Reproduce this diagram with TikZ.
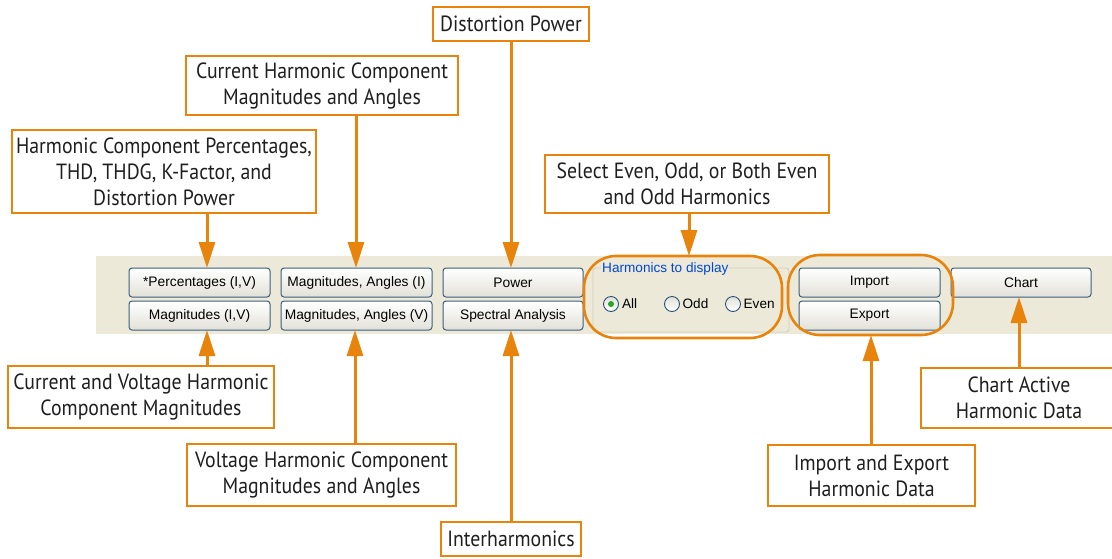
\documentclass[tikz,border=0pt]{standalone}
\usepackage{fontspec}
\setmainfont{PT Sans}[FakeStretch=0.9]
\newfontfamily\uifont{Liberation Sans}
\usetikzlibrary{arrows.meta}

\definecolor{callorange}{RGB}{232,131,12}
\definecolor{panelbg}{RGB}{236,233,216}
\definecolor{btnedge}{RGB}{60,94,128}
\definecolor{btnlow}{RGB}{226,225,216}
\definecolor{grpedge}{RGB}{208,206,191}
\definecolor{grplabel}{RGB}{0,70,213}
\definecolor{radioedge}{RGB}{40,80,120}
\definecolor{radiodot}{RGB}{40,165,40}

\begin{document}
\begin{tikzpicture}[x=1pt,y=-1pt,
  callout/.style={draw=callorange, line width=2.6pt, fill=white, inner sep=0pt,
    align=center, text=black!88, font=\fontsize{22}{26}\selectfont},
  uibtn/.style={draw=btnedge, line width=1pt, rounded corners=3pt,
    top color=white, bottom color=btnlow, inner sep=0pt,
    font=\uifont\fontsize{13.8}{15}\selectfont, minimum height=29pt},
  uitext/.style={inner sep=0pt, font=\uifont\fontsize{13.6}{15}\selectfont},
  radio/.style={circle, draw=radioedge, line width=0.9pt, minimum size=15pt,
    inner sep=0pt, top color=btnlow, bottom color=white},
  ring/.style={draw=callorange, line width=2.6pt, rounded corners=32pt, inner sep=0pt},
  arr/.style={draw=callorange, line width=3pt, -{Triangle[length=26pt,width=16pt]}}
]
\useasboundingbox (0,0) rectangle (1112,558);
\fill[white] (0,0) rectangle (1112,558);

% toolbar strip
\node[fill=panelbg, inner sep=0pt, minimum width=1016pt, minimum height=78pt] (panel) at (604,295) {};

% "Harmonics to display" group box with its radio buttons
\node[draw=grpedge, line width=0.9pt, rounded corners=3pt, inner sep=0pt,
      minimum width=196pt, minimum height=64pt] (grp) at (691,300) {};
\node[uitext, text=grplabel, fill=panelbg, inner xsep=1pt, inner ysep=1pt, anchor=base west] (grplab) at (601,272.5) {Harmonics to display};
\node[radio] (rall) at (611,304) {};
\fill[radiodot] (rall.center) circle (3pt);
\node[uitext, anchor=west] (tall) at ([xshift=3pt]rall.east) {All};
\node[radio] (rodd) at (672,304) {};
\node[uitext, anchor=west] (todd) at ([xshift=2.5pt]rodd.east) {Odd};
\node[radio] (reven) at (733,304) {};
\node[uitext, anchor=west] (teven) at ([xshift=2.5pt]reven.east) {Even};

% push buttons
\node[uibtn, minimum width=141pt] (bpct) at (199.5,282.5) {*Percentages (I,V)};
\node[uibtn, minimum width=141pt] (bmag) at (199.5,315.5) {Magnitudes (I,V)};
\node[uibtn, minimum width=151pt] (bmai) at (356.5,282.5) {Magnitudes, Angles (I)};
\node[uibtn, minimum width=151pt] (bmav) at (356.5,315.5) {Magnitudes, Angles (V)};
\node[uibtn, minimum width=140pt] (bpow) at (513,282.5) {Power};
\node[uibtn, minimum width=140pt] (bspec) at (513,315.5) {Spectral Analysis};
\node[uibtn, minimum width=141pt] (bimp) at (869.5,282.5) {Import};
\node[uibtn, minimum width=141pt] (bexp) at (869.5,315.5) {Export};
\node[uibtn, minimum width=140pt] (bchart) at (1021,282.5) {Chart};

% highlight rings
\node[ring, minimum width=198pt, minimum height=82pt] (ringgrp) at (683,297) {};
\node[ring, minimum width=165pt, minimum height=80pt] (ringie) at (870.5,295) {};

% callout boxes
\node[callout, minimum width=156pt, minimum height=34pt] (dp) at (511,24) {Distortion Power};
\node[callout, minimum width=272pt, minimum height=59pt] (chm) at (322,85.5) {Current Harmonic Component\\Magnitudes and Angles};
\node[callout, minimum width=304pt, minimum height=83pt] (hcp) at (164,171.5) {Harmonic Component Percentages,\\THD, THDG, K-Factor, and\\Distortion Power};
\node[callout, minimum width=284pt, minimum height=58pt] (sel) at (687,184) {Select Even, Odd, or Both Even\\and Odd Harmonics};
\node[callout, minimum width=266pt, minimum height=62pt] (cvm) at (141,397) {Current and Voltage Harmonic\\Component Magnitudes};
\node[callout, minimum width=269pt, minimum height=62pt] (vhm) at (321.5,475) {Voltage Harmonic Component\\Magnitudes and Angles};
\node[callout, minimum width=140pt, minimum height=34pt] (inter) at (511,539) {Interharmonics};
\node[callout, minimum width=207pt, minimum height=61pt] (ie) at (871.5,475.5) {Import and Export\\Harmonic Data};
\node[callout, minimum width=196pt, minimum height=60pt] (cad) at (1019,398) {Chart Active\\Harmonic Data};

% arrow tips on the controls
\coordinate (tdp) at (511,268);
\coordinate (tchm) at (356,268);
\coordinate (thcp) at (207,268);
\coordinate (tsel) at (689,256);
\coordinate (tcvm) at (207,330);
\coordinate (tvhm) at (355,330);
\coordinate (tint) at (511,330);
\coordinate (tie) at (871,335);
\coordinate (tcad) at (1019,297);

% connectors
\draw[arr] (dp.south -| tdp) -- (tdp);
\draw[arr] (chm.south -| tchm) -- (tchm);
\draw[arr] (hcp.south -| thcp) -- (thcp);
\draw[arr] (sel.south -| tsel) -- (tsel);
\draw[arr] (cvm.north -| tcvm) -- (tcvm);
\draw[arr] (vhm.north -| tvhm) -- (tvhm);
\draw[arr] (inter.north -| tint) -- (tint);
\draw[arr] (ie.north -| tie) -- (tie);
\draw[arr] (cad.north -| tcad) -- (tcad);
\end{tikzpicture}
\end{document}
